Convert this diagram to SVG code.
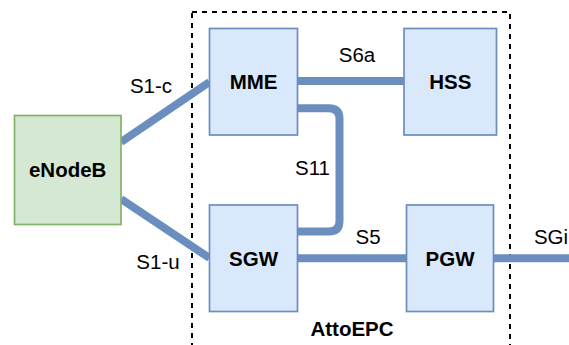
<svg xmlns="http://www.w3.org/2000/svg" width="569" height="345" viewBox="0 0 569 345">
  <style>
    .epc { fill: #dae8fc; stroke: #6c8ebf; stroke-width: 1.7; }
    .ran { fill: #d5e8d4; stroke: #82b366; stroke-width: 1.7; }
    .name { font-family: "Liberation Sans", Arial, sans-serif; font-size: 20.5px; font-weight: bold; fill: #000; text-anchor: middle; }
    .lbl { font-family: "Liberation Sans", Arial, sans-serif; font-size: 20.5px; fill: #000; text-anchor: middle; }
    .link { fill: none; stroke: #6c8ebf; stroke-width: 8; }
    .frame { fill: none; stroke: #000; stroke-width: 2; stroke-dasharray: 5 5; }
  </style>
  <rect width="569" height="345" fill="#ffffff"/>

  <!-- AttoEPC boundary -->
  <g id="attoepc">
    <rect class="frame" x="192" y="12" width="318" height="350"/>
    <text class="name" x="352" y="335.5">AttoEPC</text>
  </g>

  <!-- interfaces -->
  <g id="connectors">
    <line class="link" x1="121" y1="142" x2="209.5" y2="82"/>
    <line class="link" x1="121" y1="199" x2="209.5" y2="258"/>
    <line class="link" x1="297.5" y1="81" x2="404" y2="81"/>
    <path class="link" d="M297.5,108.3 H329 Q339.5,108.3 339.5,118.8 V221 Q339.5,231.5 329,231.5 H297.5"/>
    <line class="link" x1="297.5" y1="258.3" x2="406.5" y2="258.3"/>
    <line class="link" x1="493.5" y1="258.3" x2="569" y2="258.3"/>
    <text class="lbl" x="151" y="92.7">S1-c</text>
    <text class="lbl" x="158" y="269.3">S1-u</text>
    <text class="lbl" x="357" y="62.3">S6a</text>
    <text class="lbl" x="312.5" y="175">S11</text>
    <text class="lbl" x="368" y="244.3">S5</text>
    <text class="lbl" x="551" y="244.3">SGi</text>
  </g>

  <g id="enodeb">
    <rect class="ran" x="14.5" y="115.5" width="106.5" height="109"/>
    <text class="name" x="67.7" y="177.3">eNodeB</text>
  </g>
  <g id="mme">
    <rect class="epc" x="209.5" y="28.5" width="88" height="106.5"/>
    <text class="name" x="253.6" y="89.3">MME</text>
  </g>
  <g id="hss">
    <rect class="epc" x="404" y="28.5" width="92.5" height="106.5"/>
    <text class="name" x="450.3" y="89.3">HSS</text>
  </g>
  <g id="sgw">
    <rect class="epc" x="209.5" y="205" width="88" height="106.5"/>
    <text class="name" x="253.6" y="266">SGW</text>
  </g>
  <g id="pgw">
    <rect class="epc" x="406.5" y="205" width="87" height="106.5"/>
    <text class="name" x="450" y="266">PGW</text>
  </g>
</svg>
